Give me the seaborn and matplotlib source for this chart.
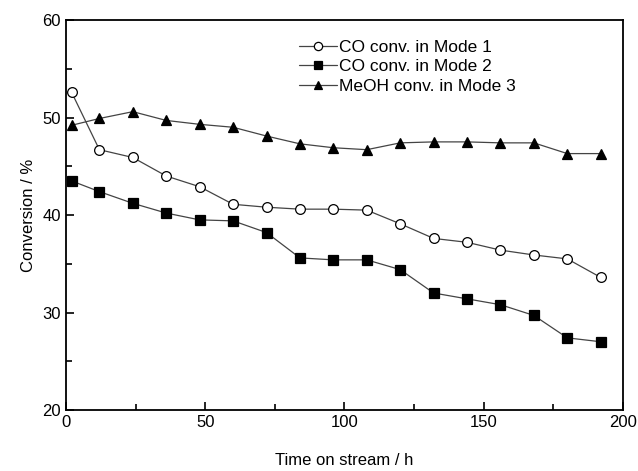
import numpy as np
import pandas as pd
import seaborn as sns
from matplotlib import pyplot as plt
from matplotlib.ticker import MultipleLocator

# time on stream (h)
time_h = [2, 12, 24, 36, 48, 60, 72, 84, 96, 108, 120, 132, 144, 156, 168, 180, 192]
co_mode1 = [52.6, 46.7, 45.9, 44.0, 42.9, 41.1, 40.8, 40.6, 40.6, 40.5, 39.1, 37.6, 37.2, 36.4, 35.9, 35.5, 33.6]
co_mode2 = [43.5, 42.4, 41.2, 40.2, 39.5, 39.4, 38.2, 35.6, 35.4, 35.4, 34.4, 32.0, 31.4, 30.8, 29.7, 27.4, 27.0]
meoh_mode3 = [49.2, 49.9, 50.6, 49.7, 49.3, 49.0, 48.1, 47.3, 46.9, 46.7, 47.4, 47.5, 47.5, 47.4, 47.4, 46.3, 46.3]
labels = ['CO conv. in Mode 1', 'CO conv. in Mode 2', 'MeOH conv. in Mode 3']

sns.set_style('ticks')
plt.rcParams['font.family'] = ['Liberation Sans', 'DejaVu Sans']
plt.rcParams['text.color'] = 'black'
plt.rcParams['axes.labelcolor'] = 'black'

fig = plt.figure(figsize=(6.38, 4.71), dpi=100)
ax = fig.add_axes([0.1034, 0.1295, 0.8731, 0.828])

styles = [
    dict(marker='o', markerfacecolor='white'),
    dict(marker='s', markerfacecolor='black'),
    dict(marker='^', markerfacecolor='black'),
]
for vals, lab, st in zip([co_mode1, co_mode2, meoh_mode3], labels, styles):
    df = pd.DataFrame({'t': time_h, 'conv': vals})
    sns.lineplot(data=df, x='t', y='conv', ax=ax, color='#444444', linewidth=0.9,
                 markersize=7, markeredgecolor='black', markeredgewidth=0.9,
                 label=lab, **st)

ax.set_xlim(0, 200)
ax.set_ylim(20, 60)
ax.xaxis.set_major_locator(MultipleLocator(50))
ax.xaxis.set_minor_locator(MultipleLocator(25))
ax.yaxis.set_major_locator(MultipleLocator(10))
ax.yaxis.set_minor_locator(MultipleLocator(5))
ax.tick_params(which='both', direction='in', labelsize=12, width=1.2, colors='black')
ax.tick_params(which='major', length=6)
ax.tick_params(which='minor', length=4)
for sp in ax.spines.values():
    sp.set_linewidth(1.3)
    sp.set_color('black')

ax.set_xlabel('Time on stream / h', fontsize=12, labelpad=17)
ax.set_ylabel('Conversion / %', fontsize=12, labelpad=5)

ax.legend(loc='upper right', bbox_to_anchor=(0.835, 0.99), frameon=False, fontsize=12.5,
          handlelength=2.2, handletextpad=0.1, labelspacing=0.25, markerscale=0.85)

fig.savefig('out.png', dpi=100, facecolor='white')
